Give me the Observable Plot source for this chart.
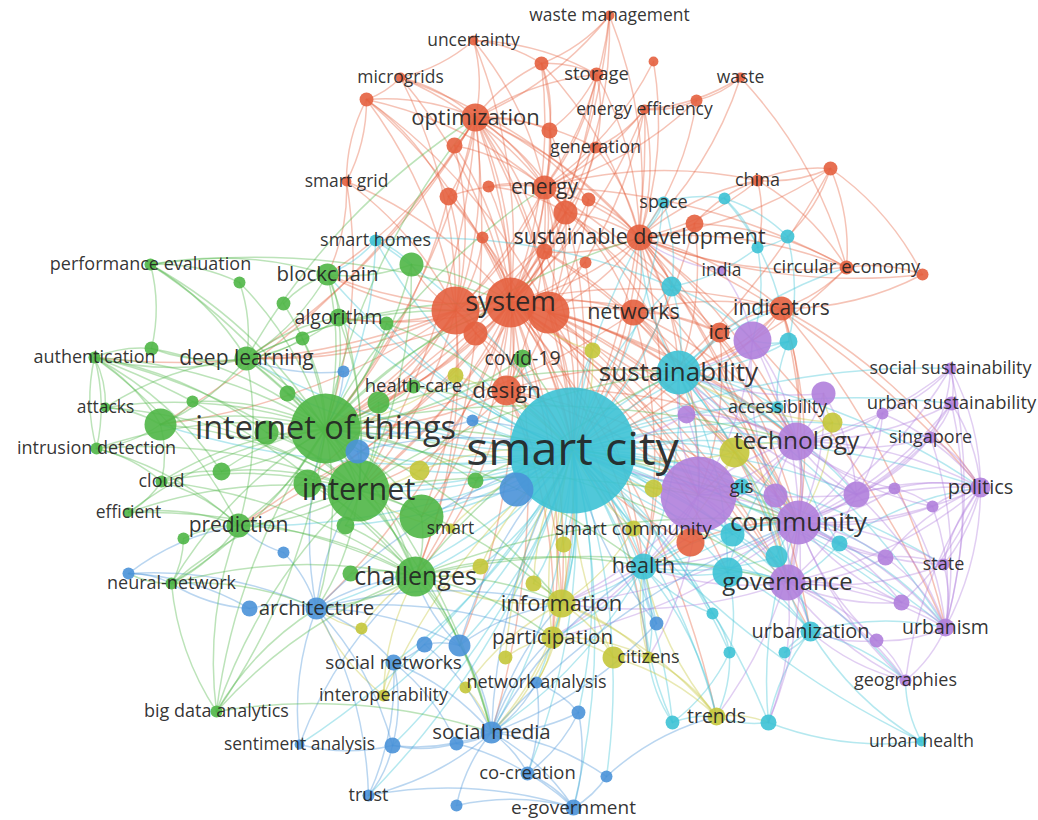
<!DOCTYPE html>
<html><head><meta charset="utf-8">
<script src="https://cdn.jsdelivr.net/npm/d3@7"></script>
<script src="https://cdn.jsdelivr.net/npm/@observablehq/plot@0.6"></script>
<style>body{margin:0;background:#fff;}#chart{width:1038px;height:820px;}</style>
</head><body><div id="chart"></div>
<script>
// cluster names and colours
const clusterNames = ["Cluster 1","Cluster 2","Cluster 3","Cluster 4","Cluster 5","Cluster 6"];
const clusterColors = ["#e4603f","#4fb646","#4a92d8","#c4c63a","#b07fdc","#3dc2d5"];

// node rows: id | label | map x | map y | occurrences
const redNodes = [
"wm|waste management|609|15|6","unc|uncertainty|473|40|6","mg|microgrids|400|77|6","r1||366|99|12",
"opt|optimization|475|117|49","r2||454|145|16","sg|smart grid|346|181|6","r3||448|196|20","r4||488|186|9",
"r5||482|237|9","r6||541|63|12","r7||653|61|6","sto|storage|596|74|12","wst|waste|740|77|6","r8||696|100|9",
"ee|energy efficiency|644|109|6","r9||549|130|16","gen|generation|595|147|9","en|energy|544|187|36",
"r10||588|199|12","r11||565|212|36","r12||694|223|20","sd|sustainable development|639|237|42",
"r13||544|251|16","r14||585|262|9","chn|china|757|180|9","r15||830|168|12","ce|circular economy|846|267|12",
"r16||922|274|9","sys|system|510|302|156","r17||455|310|144","r18||548|312|110","r19||475|333|36",
"des|design|506|390|56","net|networks|633|312|42","ict|ict|719|332|25","ind|indicators|781|308|36","r20||690|542|49"
];
const cyanNodes = [
"sc|smart city|572|450|992","sh|smart homes|375|240|9","spc|space|663|202|9","c1||724|198|9","c2||757|247|9",
"c3||787|236|12","c4||671|286|25","sus|sustainability|678|372|121","c5||788|341|20","acc|accessibility|777|407|9",
"gis|gis|741|486|16","c6||732|534|36","c7||839|543|16","hea|health|643|566|42","c8||727|572|56","c9||776|556|30",
"urz|urbanization|810|631|25","c10||784|652|9","c11||712|613|9","c12||729|652|9","c13||672|722|12",
"c14||768|722|16","uh|urban health|921|741|6"
];
const purpleNodes = [
"ina|india|721|270|6","p1||752|340|90","p2||823|393|36","ss|social sustainability|950|368|9",
"us|urban sustainability|951|403|12","p3||882|413|9","p4||686|414|20","sgp|singapore|930|437|9",
"tec|technology|796|441|90","p5||856|494|42","p6||894|488|9","p7||932|506|9","pol|politics|980|487|25",
"p8||698|494|361","p9||775|495|36","com|community|798|522|121","p10||885|557|16","sta|state|943|564|9",
"gov|governance|787|582|81","p11||901|602|16","urb|urbanism|945|627|20","p12||876|640|12","geo|geographies|905|680|9"
];
const yellowNodes = [
"y1||592|350|16","y2||455|375|16","y3||419|470|25","y4||734|452|56","y5||832|422|25","y6||653|488|20",
"scm|smart community|633|528|16","y7||563|544|16","y8||480|566|16","y9||533|583|16","inf|information|561|603|49",
"par|participation|552|637|30","y10||613|657|30","cit|citizens|648|657|9","y11||505|657|12","y12||361|628|9",
"y13||465|687|9","iop|interoperability|383|695|9","trd|trends|716|716|20","sm|smart|450|528|6"
];
const blueNodes = [
"b1||343|371|9","b2||472|420|9","b3||357|451|36","b4||516|489|72","b5||283|552|9","b6||128|573|9",
"b7||249|608|16","arc|architecture|316|608|30","b8||424|644|16","b9||459|645|30","sn|social networks|393|662|16",
"b10||656|623|12","na|network analysis|536|682|9","b11||578|712|12","smd|social media|491|732|30",
"b12||456|743|12","b13||392|745|16","sa|sentiment analysis|299|744|6","tru|trust|368|795|9","b14||456|805|9",
"cc|co-creation|527|773|12","b15||606|776|9","eg|e-government|573|807|16"
];
const greenNodes = [
"pe|performance evaluation|150|264|9","g1||411|264|36","blk|blockchain|327|274|30","g2||239|282|9",
"g3||283|303|12","alg|algorithm|338|317|20","g4||386|323|12","g5||302|338|12","dl|deep learning|246|358|36",
"auth|authentication|94|357|9","g6||151|348|12","cov|covid-19|522|358|20","att|attacks|105|407|6","g7||192|401|9",
"g8||160|424|64","id|intrusion detection|96|448|9","g9||287|393|16","g10||378|402|30","hc|health-care|413|386|12",
"iot|internet of things|325|428|306","g11||266|432|36","g12||221|471|20","cld|cloud|161|481|9",
"int|internet|358|490|240","g13||307|483|49","g14||421|516|121","g15||475|480|16","g16||345|525|20",
"eff|efficient|128|512|6","pred|prediction|238|525|36","g17||183|538|9","chl|challenges|415|576|100",
"g18||350|573|16","nn|neural-network|171|583|9","bda|big data analytics|216|711|9"
];

// links: source: targets
const redLinks = [
"wm: opt sd en sys r11 r6","unc: opt r6 sys mg en sto","mg: opt r1 en sys r17 sd","r1: opt r17 r3 sys en r18 sg",
"opt: r6 sto en r9 r11 sys r17 r18 sd gen iot r13 des sc r10 r2 r3 chl int dl g8 blk","r2: sys en r17","sg: r1 sys iot blk r17",
"r3: sys en r17 sc iot","r4: en sys r11","r5: sys r17 sc","r6: en sto r9 sys sd","r7: sd en","sto: en gen r9 sys sd",
"wst: r8 ee sd ce","r8: ee sd en","ee: en gen sd r18 sys sc","r9: en sys r11","gen: en r11 sd sys",
"en: r11 sd sys r17 r18 sc r13 iot des net sus tec ce chn","r10: sd sys r18","r11: sys r18 r17 sd sc iot int tec com",
"r12: sd chn ce sc sus",
"sd: sys r18 sc sus chn ce net ind r13 com p8 tec gov urb hea urz pol c4","r13: sys sc sus com iot","r14: sys sc",
"chn: r15 ce sd c2","r15: ce r16 sd chn c3 sc","ce: r16 sd sus ind","r16: ind sd",
"sys: r17 r18 sc iot int des net r19 chl g14 sus dl blk alg tec p8 com gov inf arc hea trd par cit smd b9 y3 g10 g13 pred urz c8 ind ict",
"r17: iot sc int dl blk alg r19 g1 des chl g14 pred g8 auth","r18: sc sus des net p8 tec com gov hea inf y4",
"r19: sc iot","des: sc iot int p8 sus par chl inf com tec hea",
"net: sc sus iot ict ind com tec gov hea","ict: sc sus ind p8","ind: sus tec p1 sc com gov pol urb","r20: sc com hea"
];
const cyanLinks = [
"sc: sus com p8 iot int tec gov hea chl inf par cit trd g14 smd arc c8 urz b4 y4 gis p5 pol urb dl alg b9 y3 g10 g13 eg cc na b10 c6 c9 sn iop pred g8 blk",
"sc: sh spc c4 c5 c7 acc ss us sgp sta geo p11 p10 y6 y7 y8 y9 scm b2 b3 cov hc g15 y2 y1 g9 g4 g16 b11 b15 c13 c14 c11 c12 tru b13 sa",
"sh: iot blk sc g1 c4","spc: c1 sd c4 sc","c1: c2 c3 ind","c2: c4 p1","c3: c2 c5","c4: sus sc p1",
"sus: p8 com tec gov c8 hea urz sd ce ind pol urb p5 acc","c5: sus p1","acc: sc tec c5","gis: sc p8 com",
"c6: sc com hea","c7: com tec gov urb pol","hea: c8 com gov cit trd smd par inf","c8: gov urz c12 com tec hea","c9: gov com urz hea",
"urz: c10 gov geo urb","c10: urz","c11: hea c12","c12: c13 trd","c13: trd cit hea","c14: trd urz com",
"uh: geo urz c14 sc"
];
const purpleLinks = [
"ina: sd p1","p1: sus tec com p8","p2: tec com p5 sus","ss: us p3 com tec pol sgp urb","us: sgp tec p5 pol com urb",
"p3: tec p5 com pol","p4: sc tec p8","sgp: pol com tec urb p5","tec: com p8 p5 pol gov y5 sus inf acc",
"p5: com pol p6 urb tec gov sus sc","p6: pol p7 com tec urb","p7: pol com urb tec","pol: com urb gov sta p11",
"p8: com gov tec hea par inf cit sus c6","p9: com tec gov sus p1",
"com: gov p10 urb p11 sta pol hea inf par c14 trd","p10: sta urb com pol gov","sta: urb pol com gov",
"gov: urb p12 geo p11 hea c14 urz inf","p11: urb com gov","urb: geo p12","p12: geo com urz","geo: com pol gov urz"
];
const yellowLinks = [
"y1: sc sys","y2: iot sc","y3: iot int sc","y4: sc tec com sus gov hea p8","y5: tec p2 com sus","y6: sc p8",
"scm: sc inf","y7: sc inf","y8: sc chl","y9: inf sc","inf: par sc cit y10 na smd trd chl","par: cit y10 na sc smd",
"y10: cit trd sc","cit: trd hea","y11: par sc","y12: arc chl","y13: inf smd","iop: arc chl sn sc","trd: c14 hea",
"sm: sc int"
];
const blueLinks = [
"b1: iot dl","b2: sc iot","b3: iot int sc","b4: sc int","b5: pred arc","b6: nn arc b7 pred","b7: arc nn",
"arc: chl int iot sn sc b9 tru b13 inf par","b8: sn b9 smd","b9: sc smd chl inf","sn: smd b13 tru b12","b10: sc smd hea",
"na: smd b11 cc","b11: smd eg cc","smd: b12 cc eg sc tru b15 b13 inf par com hea","b12: b13 eg","b13: tru sa",
"sa: chl arc","tru: eg","b14: smd eg","cc: eg","b15: eg trd"
];
const greenLinks = [
"pe: iot dl g6 int blk g2 sys","g1: iot blk sys int","blk: iot int alg dl","g2: iot dl","g3: iot blk","alg: iot int dl",
"g4: iot sc","g5: iot dl","dl: iot int g6 auth g8 pred chl opt sys r17 alg",
"auth: iot g6 g8 att id int g11 g12 pred chl","g6: iot","cov: sc iot des",
"att: g8 iot int dl","g7: iot g8","g8: iot int id cld","id: iot cld int pred auth","g9: iot","g10: iot int","hc: iot sc",
"iot: int g13 g14 chl g11 pred g12 g15 tec com bda nn sys sd en opt gov hea inf smd arc sus","g11: int","g12: iot int",
"cld: iot int eff pred g12 chl","int: g14 chl g13 pred g16 sus com inf arc smd","g13: chl","g14: chl","g15: sc",
"g16: chl","eff: iot pred int chl","pred: chl nn","g17: pred nn","chl: arc inf b9 sus com gov hea par smd",
"g18: chl","nn: arc b6 iot int chl","bda: iot smd chl arc int pred nn"
];

// ---- build tables ----
const groups = [["Cluster 1",redNodes],["Cluster 2",greenNodes],["Cluster 3",blueNodes],["Cluster 4",yellowNodes],["Cluster 5",purpleNodes],["Cluster 6",cyanNodes]];
const nodes = [];
for (const [cl, rows] of groups) for (const row of rows) {
  const [id, label, x, y, occ] = row.split("|");
  nodes.push({id, label, x:+x, y:+y, occ:+occ, cluster:cl});
}
const byId = new Map(nodes.map(d => [d.id, d]));
const links = [];
for (const row of [...redLinks, ...cyanLinks, ...purpleLinks, ...yellowLinks, ...blueLinks, ...greenLinks]) {
  const [s, rest] = row.split(":");
  const src = byId.get(s.trim());
  for (const t of rest.trim().split(/\s+/)) {
    const tgt = byId.get(t);
    if (src && tgt && src !== tgt) links.push({source: src, target: tgt, cluster: src.cluster});
  }
}
const maxOcc = d3.max(nodes, d => d.occ);
const rOf = d => 63 * Math.sqrt(d.occ / maxOcc);
const drawNodes = nodes.slice().sort((a, b) => a.occ - b.occ);
const labeled = nodes.filter(d => d.label);

const chart = Plot.plot({
  width: 1038, height: 820, margin: 0,
  style: {background: "#fff", fontFamily: "'Open Sans', sans-serif"},
  x: {domain: [0, 1038], range: [0, 1038], axis: null},
  y: {domain: [0, 820], range: [0, 820], axis: null},
  r: {type: "sqrt", domain: [0, maxOcc], range: [0, 63]},
  color: {type: "ordinal", domain: clusterNames, range: clusterColors},
  marks: [
    Plot.arrow(links, {
      x1: d => d.source.x, y1: d => d.source.y, x2: d => d.target.x, y2: d => d.target.y,
      bend: 14, headLength: 0, stroke: "cluster", strokeOpacity: 0.38, strokeWidth: 1.5
    }),
    Plot.dot(drawNodes, {x: "x", y: "y", r: "occ", fill: "cluster", fillOpacity: 0.9}),
    Plot.text(labeled, {
      x: "x", y: "y", text: "label", fill: "#222", fillOpacity: 0.92,
      fontSize: d => 15 + 0.5 * rOf(d), fontFamily: "'Open Sans', sans-serif"
    })
  ]
});
document.getElementById("chart").append(chart);
</script>
</body></html>
